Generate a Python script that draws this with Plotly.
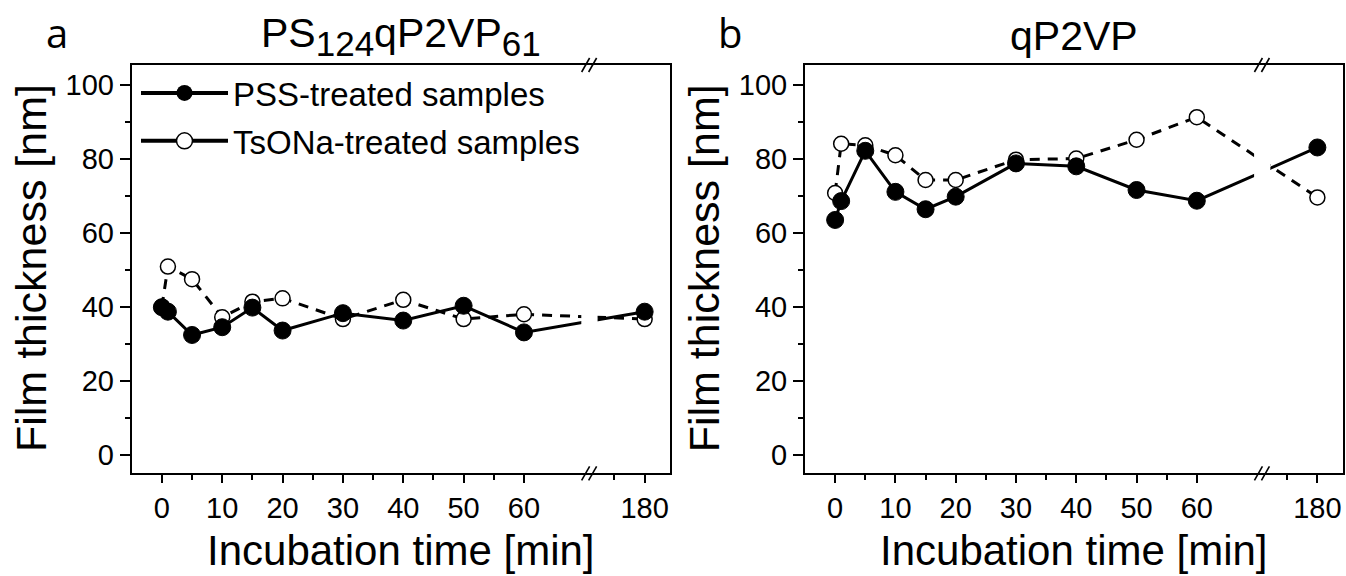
import plotly.graph_objects as go

# ---------------- data ----------------
time_min = [0, 1, 5, 10, 15, 20, 30, 40, 50, 60, 180]
a_pss = [39.9, 38.7, 32.4, 34.5, 39.8, 33.6, 38.3, 36.3, 40.3, 33.1, 38.7]
a_tsona = [40.0, 50.9, 47.5, 37.2, 41.4, 42.3, 36.7, 41.9, 36.7, 38.0, 36.7]
b_pss = [63.5, 68.6, 82.2, 71.1, 66.4, 69.8, 78.8, 78.0, 71.6, 68.7, 83.1]
b_tsona = [70.8, 84.1, 83.7, 81.0, 74.3, 74.3, 79.8, 80.1, 85.2, 91.3, 69.6]

tick_times = [0, 10, 20, 30, 40, 50, 60, 180]
minor_times = [5, 15, 25, 35, 45, 55, 65, 175]
y_major = [0, 20, 40, 60, 80, 100]
y_minor = [10, 30, 50, 70, 90]

series_names = ["PSS-treated samples", "TsONa-treated samples"]
panel_letters = ["a", "b"]
SUB = '<sub><span style="font-size:35px">{}</span></sub>'
panel_titles = ["PS" + SUB.format("124") + "qP2VP" + SUB.format("61"), "qP2VP"]
x_title = "Incubation time [min]"
y_title = "Film thickness [nm]"

# broken x axis: times after the break are shifted left by a fixed amount
BREAK_AFTER = 60
BREAK_SHIFT = 100


def axpos(t):
    return t if t <= BREAK_AFTER else t - BREAK_SHIFT


W, H = 1346, 576
FONT = "Liberation Sans, Arial, sans-serif"

fig = go.Figure()

panels = [(a_pss, a_tsona, "x", "y"), (b_pss, b_tsona, "x2", "y2")]
for pss, tso, xa, ya in panels:
    xs = [axpos(t) for t in time_min]
    fig.add_trace(go.Scatter(
        x=xs, y=tso, xaxis=xa, yaxis=ya, mode="lines+markers", showlegend=False,
        line=dict(color="black", width=3, dash="10px,8px"),
        marker=dict(symbol="circle", size=15, color="white",
                    line=dict(color="black", width=1.5)),
        cliponaxis=False,
    ))
    fig.add_trace(go.Scatter(
        x=xs, y=pss, xaxis=xa, yaxis=ya, mode="lines+markers", showlegend=False,
        line=dict(color="black", width=3),
        marker=dict(symbol="circle", size=17, color="black",
                    line=dict(color="black", width=1)),
        cliponaxis=False,
    ))

# legend entries (solid lines, as in the original key)
fig.add_trace(go.Scatter(
    x=[None], y=[None], mode="lines+markers", name=series_names[0],
    legendgroup="g1", line=dict(color="black", width=4),
    marker=dict(symbol="circle", size=20, color="black")))
fig.add_trace(go.Scatter(
    x=[None], y=[None], mode="lines+markers", name=series_names[1],
    legendgroup="g2", line=dict(color="black", width=4),
    marker=dict(symbol="circle", size=20, color="white",
                line=dict(color="black", width=1.5))))

x_dom_a = [131.7 / W, 670 / W]
x_dom_b = [805 / W, 1342.7 / W]
y_dom = [1 - 473.3 / H, 1 - 65 / H]
x_range = [-5, 84.2]
y_range = [-5, 105.4]

common_x = dict(
    range=x_range, showgrid=False, zeroline=False,
    showline=True, linecolor="black", linewidth=2, mirror=True,
    ticks="outside", ticklen=8, tickwidth=2, tickcolor="black",
    tickmode="array", tickvals=[axpos(t) for t in tick_times],
    ticktext=[str(t) for t in tick_times],
    tickfont=dict(family=FONT, size=29, color="black"),
    minor=dict(tickmode="array", tickvals=[axpos(t) for t in minor_times],
               ticks="outside", ticklen=5, tickwidth=2, tickcolor="black"),
)
common_y = dict(
    range=y_range, domain=y_dom, showgrid=False, zeroline=False,
    showline=True, linecolor="black", linewidth=2, mirror=True,
    ticks="outside", ticklen=10, tickwidth=2, tickcolor="black",
    tickmode="array", tickvals=y_major, ticktext=[str(v) for v in y_major],
    tickfont=dict(family=FONT, size=29, color="black"),
    minor=dict(tickmode="array", tickvals=y_minor,
               ticks="outside", ticklen=5, tickwidth=2, tickcolor="black"),
)

fig.update_layout(
    width=W, height=H, margin=dict(l=0, r=0, t=0, b=0),
    paper_bgcolor="white", plot_bgcolor="white",
    xaxis=dict(domain=x_dom_a, anchor="y", **common_x),
    yaxis=dict(anchor="x", **common_y),
    xaxis2=dict(domain=x_dom_b, anchor="y2", **common_x),
    yaxis2=dict(anchor="x2", **common_y),
    legend=dict(x=136 / W, y=1 - 65 / H, xanchor="left", yanchor="top",
                bgcolor="rgba(0,0,0,0)", itemwidth=87, tracegroupgap=2,
                font=dict(family=FONT, size=33, color="black")),
    showlegend=True,
)

shapes = []
annotations = []
for i, (xr, yr, dom) in enumerate([("x", "y", x_dom_a), ("x2", "y2", x_dom_b)]):
    # white gap cutting the data lines at the break
    shapes.append(dict(type="rect", xref=xr, yref=f"{yr} domain",
                       x0=69.5, x1=72.2, y0=0.006, y1=0.994,
                       fillcolor="white", line=dict(width=0), layer="above"))
    # break marks on bottom and top axes
    bx = 70.8
    for yd in (0, 1):
        for off in (-3.5, 3.5):
            shapes.append(dict(type="line", xref=xr, yref=f"{yr} domain",
                               xsizemode="pixel", xanchor=bx,
                               ysizemode="pixel", yanchor=yd,
                               x0=off - 4, x1=off + 4, y0=-7, y1=7,
                               line=dict(color="black", width=1.6)))
    cx = (dom[0] + dom[1]) / 2
    annotations.append(dict(text=panel_titles[i], xref="paper", yref="paper",
                            x=cx, y=1 - 36 / H, xanchor="center", yanchor="middle",
                            showarrow=False,
                            font=dict(family=FONT, size=41, color="black")))
    annotations.append(dict(text=panel_letters[i], xref="paper", yref="paper",
                            x=(57 + 673.3 * i) / W, y=1 - 33 / H,
                            xanchor="center", yanchor="middle", showarrow=False,
                            font=dict(family="Open Sans, sans-serif", size=40,
                                      color="black")))
    annotations.append(dict(text=x_title, xref="paper", yref="paper",
                            x=cx, y=1 - 550 / H, xanchor="center", yanchor="middle",
                            showarrow=False,
                            font=dict(family=FONT, size=42, color="black")))
    annotations.append(dict(text=y_title, xref="paper", yref="paper",
                            x=(31 + 673.3 * i) / W, y=1 - 268 / H, textangle=-90,
                            xanchor="center", yanchor="middle", showarrow=False,
                            font=dict(family=FONT, size=43, color="black")))

fig.update_layout(shapes=shapes, annotations=annotations)

fig.write_html(
    "out.html",
    config={"displayModeBar": False},
    post_script="document.body.style.margin='0';document.body.style.padding='0';",
)
